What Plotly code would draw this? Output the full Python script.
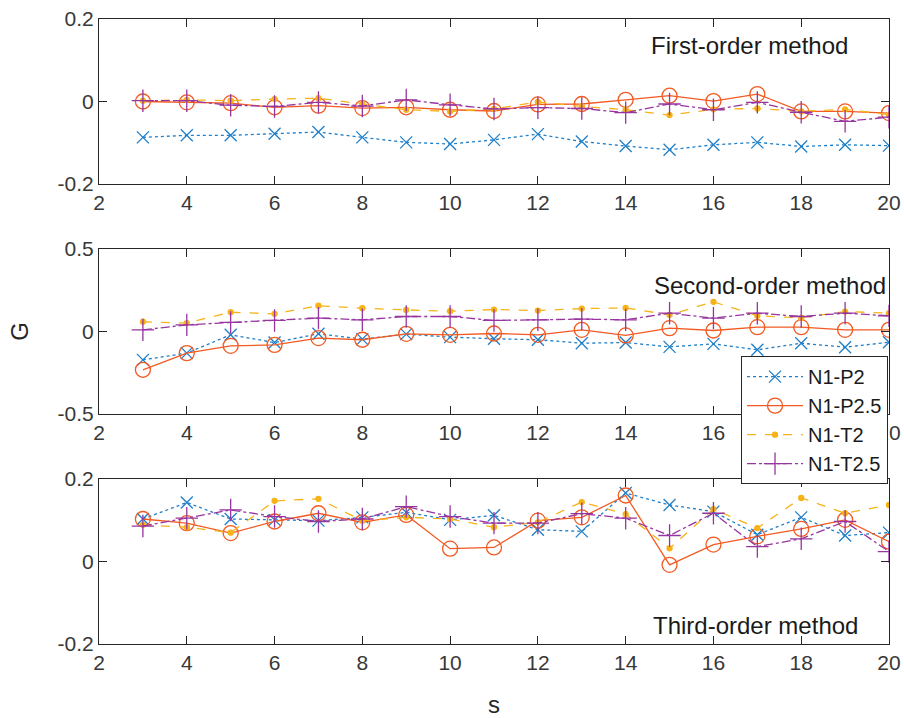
import plotly.graph_objects as go
from plotly.subplots import make_subplots

s = list(range(3, 21))

# First-order method
p2_1 = [-0.087, -0.082, -0.082, -0.078, -0.074, -0.087, -0.099, -0.103, -0.093, -0.079, -0.097, -0.108, -0.117, -0.105, -0.099, -0.109, -0.105, -0.107]
p25_1 = [0.000, -0.002, -0.004, -0.014, -0.010, -0.016, -0.014, -0.020, -0.023, -0.007, -0.006, 0.004, 0.014, 0.001, 0.018, -0.024, -0.024, -0.028]
t2_1 = [0.002, 0.004, 0.002, 0.006, 0.008, -0.006, -0.020, -0.024, -0.018, -0.001, -0.012, -0.020, -0.033, -0.019, -0.017, -0.024, -0.019, -0.032]
t25_1 = [0.002, 0.002, -0.009, -0.012, -0.002, -0.011, 0.004, -0.008, -0.018, -0.015, -0.017, -0.027, -0.006, -0.020, -0.002, -0.026, -0.048, -0.038]

# Second-order method
p2_2 = [-0.172, -0.131, -0.020, -0.067, -0.014, -0.046, -0.016, -0.034, -0.044, -0.050, -0.071, -0.067, -0.093, -0.075, -0.111, -0.071, -0.095, -0.065]
p25_2 = [-0.232, -0.131, -0.087, -0.081, -0.040, -0.050, -0.014, -0.020, -0.012, -0.020, 0.010, -0.024, 0.020, 0.006, 0.026, 0.026, 0.010, 0.010]
t2_2 = [0.059, 0.051, 0.117, 0.107, 0.156, 0.141, 0.131, 0.123, 0.133, 0.127, 0.139, 0.143, 0.101, 0.180, 0.095, 0.083, 0.121, 0.111]
t25_2 = [0.010, 0.040, 0.055, 0.067, 0.081, 0.071, 0.091, 0.091, 0.067, 0.071, 0.075, 0.071, 0.111, 0.081, 0.111, 0.091, 0.111, 0.095]

# Third-order method
p2_3 = [0.103, 0.143, 0.103, 0.101, 0.099, 0.107, 0.119, 0.101, 0.112, 0.077, 0.073, 0.166, 0.137, 0.121, 0.065, 0.107, 0.063, 0.070]
p25_3 = [0.103, 0.093, 0.069, 0.097, 0.117, 0.095, 0.113, 0.031, 0.034, 0.099, 0.107, 0.160, -0.008, 0.041, 0.061, 0.079, 0.101, 0.048]
t2_3 = [0.089, 0.083, 0.070, 0.147, 0.152, 0.099, 0.107, 0.103, 0.083, 0.095, 0.144, 0.115, 0.032, 0.127, 0.081, 0.154, 0.117, 0.137]
t25_3 = [0.086, 0.105, 0.125, 0.109, 0.097, 0.103, 0.133, 0.109, 0.093, 0.093, 0.116, 0.105, 0.063, 0.117, 0.036, 0.055, 0.097, 0.024]

names = ["N1-P2", "N1-P2.5", "N1-T2", "N1-T2.5"]
titles = ["First-order method", "Second-order method", "Third-order method"]
x_ticks = list(range(2, 21, 2))
y_ticks = [[-0.2, 0, 0.2], [-0.5, 0, 0.5], [-0.2, 0, 0.2]]
y_tick_text = [["-0.2", "0", "0.2"], ["-0.5", "0", "0.5"], ["-0.2", "0", "0.2"]]

data = [[p2_1, p25_1, t2_1, t25_1], [p2_2, p25_2, t2_2, t25_2], [p2_3, p25_3, t2_3, t25_3]]

colors = ["#1F7FC8", "#F25A22", "#F7B217", "#9635A0"]
dashes = ["dot", "solid", "dash", "dashdot"]
symbols = ["x-thin-open", "circle-open", "circle", "cross-thin-open"]
msizes = [12, 15, 5, 16]

FONT = "Arial, Liberation Sans, sans-serif"
TICKC = "#383838"

fig = make_subplots(rows=3, cols=1)

for r in range(3):
    for i in range(4):
        fig.add_trace(go.Scatter(
            x=s, y=data[r][i], name=names[i], mode="lines+markers",
            line=dict(color=colors[i], dash=dashes[i], width=1.3),
            marker=dict(symbol=symbols[i], size=msizes[i], color=colors[i],
                        line=dict(color=colors[i], width=1.3)),
            showlegend=(r == 1),
        ), row=r + 1, col=1)

domains = [[0.736, 1.0], [0.368, 0.632], [0.0, 0.264]]
for r in range(3):
    rng = [-0.2, 0.2] if r != 1 else [-0.5, 0.5]
    fig.update_xaxes(range=[2, 20], tickvals=x_ticks, ticks="inside", ticklen=8,
                     showline=True, linecolor="#262626", linewidth=1.2, mirror="ticks",
                     tickcolor="#262626", showgrid=False, zeroline=False, automargin=False,
                     tickfont=dict(family=FONT, size=21, color=TICKC),
                     row=r + 1, col=1)
    fig.update_yaxes(range=rng, tickvals=y_ticks[r], ticktext=y_tick_text[r],
                     ticks="inside", ticklen=8, domain=domains[r],
                     showline=True, linecolor="#262626", linewidth=1.2, mirror="ticks",
                     tickcolor="#262626", showgrid=False, zeroline=False, automargin=False,
                     tickfont=dict(family=FONT, size=21, color=TICKC),
                     row=r + 1, col=1)

fig.update_xaxes(title=dict(text="s", font=dict(family=FONT, size=24, color="#262626"), standoff=25), row=3, col=1)
fig.update_yaxes(title=dict(text="G", font=dict(family=FONT, size=24, color="#262626"), standoff=22), row=2, col=1)

fig.add_annotation(text=titles[0], xref="paper", yref="paper", x=0.951, y=0.957,
                   xanchor="right", yanchor="middle", showarrow=False,
                   font=dict(family=FONT, size=24, color="#1a1a1a"))
fig.add_annotation(text=titles[1], xref="paper", yref="paper", x=0.999, y=0.574,
                   xanchor="right", yanchor="middle", showarrow=False,
                   font=dict(family=FONT, size=24, color="#1a1a1a"))
fig.add_annotation(text=titles[2], xref="paper", yref="paper", x=0.963, y=0.030,
                   xanchor="right", yanchor="middle", showarrow=False,
                   font=dict(family=FONT, size=24, color="#1a1a1a"))

fig.update_layout(
    width=904, height=718,
    margin=dict(l=99, r=14.5, t=19, b=74, autoexpand=False),
    plot_bgcolor="white", paper_bgcolor="white",
    legend=dict(xref="container", yref="container", x=0.8197, y=0.504,
                xanchor="left", yanchor="top",
                bgcolor="white", bordercolor="#262626", borderwidth=1,
                font=dict(family=FONT, size=20, color="#1a1a1a"),
                tracegroupgap=0, itemwidth=56),
)

fig.write_html("out.html")
